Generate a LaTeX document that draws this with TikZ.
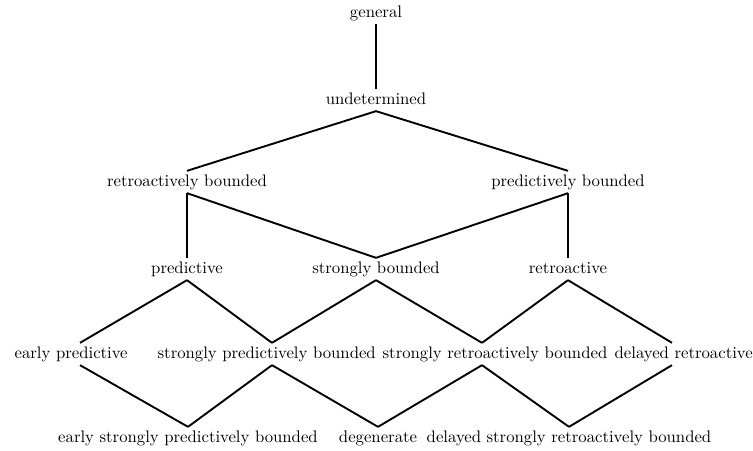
\documentclass[tikz,border=0pt]{standalone}
\begin{document}
\begin{tikzpicture}[x=0.58pt, y=-0.58pt,
    font=\fontsize{9.7}{11.5}\selectfont,
    term/.style={inner sep=2.5pt, text height=1.5ex, text depth=.25ex},
    link/.style={line width=1.1pt}]
    \useasboundingbox (0,0) rectangle (753,451);
    \node[term] (gen) at (376,13) {general};
    \node[term] (undet) at (376,100) {undetermined};
    \node[term] (rb) at (187,182) {retroactively bounded};
    \node[term] (pb) at (568,182) {predictively bounded};
    \node[term] (pred) at (187,269) {predictive};
    \node[term] (sb) at (376,269) {strongly bounded};
    \node[term] (retro) at (568,269) {retroactive};
    \node[term, anchor=west] (ep) at (10,354) {early predictive};
    \node[term, anchor=west] (spb) at (153,354) {strongly predictively bounded};
    \node[term, anchor=west] (srb) at (378,354) {strongly retroactively bounded};
    \node[term, anchor=west] (dr) at (610,354) {delayed retroactive};
    \node[term] (espb) at (188,438) {early strongly predictively bounded};
    \node[term] (degen) at (378,438) {degenerate};
    \node[term] (dsrb) at (569,438) {delayed strongly retroactively bounded};
    % where the lines meet the fourth row
    \coordinate (epx) at (80,0);
    \coordinate (spbx) at (272,0);
    \coordinate (srbx) at (482,0);
    \coordinate (drx) at (672,0);
    \draw[link] (gen) -- (undet);
    \draw[link] (undet.south) -- (rb.north);
    \draw[link] (undet.south) -- (pb.north);
    \draw[link] (rb.south) -- (pred.north);
    \draw[link] (rb.south) -- (sb.north);
    \draw[link] (pb.south) -- (sb.north);
    \draw[link] (pb.south) -- (retro.north);
    \draw[link] (pred.south) -- (ep.north -| epx);
    \draw[link] (pred.south) -- (spb.north -| spbx);
    \draw[link] (sb.south) -- (spb.north -| spbx);
    \draw[link] (sb.south) -- (srb.north -| srbx);
    \draw[link] (retro.south) -- (srb.north -| srbx);
    \draw[link] (retro.south) -- (dr.north -| drx);
    \draw[link] (ep.south -| epx) -- (espb.north);
    \draw[link] (spb.south -| spbx) -- (espb.north);
    \draw[link] (spb.south -| spbx) -- (degen.north);
    \draw[link] (srb.south -| srbx) -- (degen.north);
    \draw[link] (srb.south -| srbx) -- (dsrb.north);
    \draw[link] (dr.south -| drx) -- (dsrb.north);
\end{tikzpicture}
\end{document}
